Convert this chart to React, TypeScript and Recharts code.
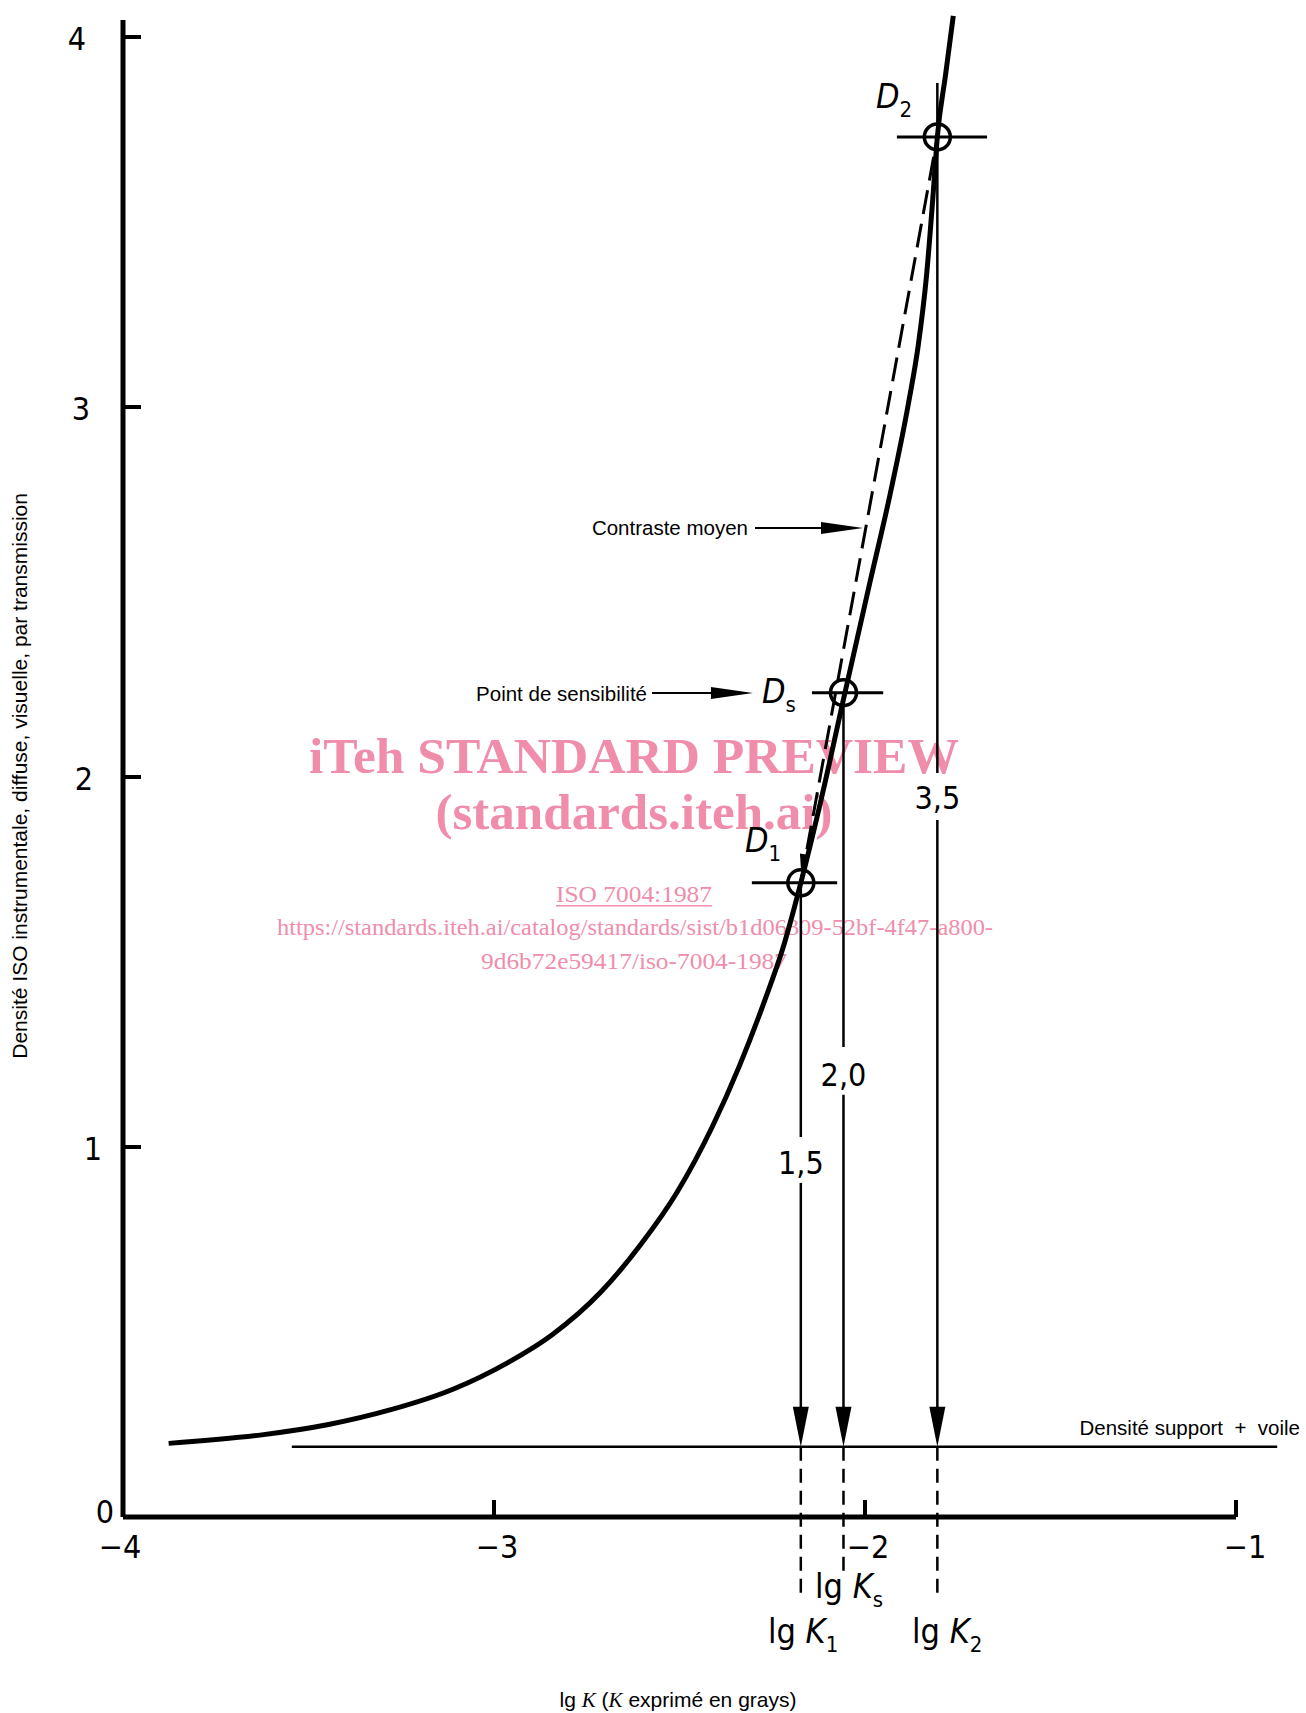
import React from "react";
import { ComposedChart, Line, XAxis, YAxis, ReferenceLine, ReferenceDot } from "recharts";

// characteristic curve
const lgK = [-3.877, -3.626, -3.446, -3.278, -3.109, -2.965, -2.844, -2.712, -2.604, -2.507, -2.411, -2.339, -2.267, -2.222, -2.173, -2.118, -2.058, -1.987, -1.933, -1.883, -1.856, -1.834, -1.816, -1.805, -1.783, -1.762];
const density = [0.199, 0.222, 0.25, 0.29, 0.346, 0.416, 0.492, 0.608, 0.737, 0.877, 1.056, 1.218, 1.405, 1.535, 1.714, 1.94, 2.21, 2.525, 2.761, 3.009, 3.17, 3.357, 3.58, 3.73, 3.897, 4.057];

// D1, Ds, D2
const pointNames = ["1", "s", "2"];
const pointLgK = [-2.173, -2.058, -1.805];
const pointDensity = [1.714, 2.228, 3.73];
const hairLeft = [-2.305, -2.143, -1.914];
const hairRight = [-2.075, -1.951, -1.671];
const nameLgK = [-2.3235, -2.2776, -1.9704];
const nameDensity = [1.797, 2.2, 3.808];

// density differences written on the drop lines
const valueLabels = ["1,5", "2,0", "3,5"];
const gapTop = [1.027, 1.27, 2.011];
const gapBottom = [0.903, 1.141, 1.884];
const valueDensity = [0.957, 1.195, 1.943];

// lg K labels under the axis
const kSubs = ["1", "s", "2"];
const kLabelLgK = [-2.2615, -2.1348, -1.8733];
const kLabelDensity = [-0.3405, -0.219, -0.3405];
const dashEnd = [-0.216, -0.149, -0.219];

const baseDensity = 0.19;
const baseStart = -3.545;
const baseEnd = -0.889;
const d2Top = 3.876;

const xTicks = [-4, -3, -2, -1];
const xTickLabels = ["\u22124", "\u22123", "\u22122", "\u22121"];
const yTicks = [0, 1, 2, 3, 4];
const yTickLabels = ["0", "1", "2", "3", "4"];

const curveData = lgK.map((x, i) => ({ x, d: density[i] }));
const contrastData = [
  { x: pointLgK[0], d: pointDensity[0] },
  { x: pointLgK[2], d: pointDensity[2] },
];

const din = "'DejaVu Sans Condensed', 'Liberation Sans Narrow', 'DejaVu Sans', sans-serif";
const helv = "'Liberation Sans', Arial, sans-serif";
const serif = "'Liberation Serif', 'Times New Roman', serif";
const pink = "#EF8DAB";

// the scanned y axis leans a little, so labels drift
const yLabelDx: Record<number, number> = { 0: -18, 1: -30, 2: -39, 3: -42, 4: -46 };

const XTick = (props: any) => {
  const { x, y, payload } = props;
  const v = payload.value;
  const i = xTicks.indexOf(v);
  const dx = v === -1 ? 9 : v === -4 ? -3 : 3;
  return (
    <g>
      {v !== -4 && <line x1={x} x2={x} y1={y} y2={y - 17} stroke="#000" strokeWidth={4} />}
      <text x={x + dx} y={y + 30} textAnchor="middle" dominantBaseline="central" fontFamily={din} fontSize={32} fill="#000">
        {xTickLabels[i]}
      </text>
    </g>
  );
};

const YTick = (props: any) => {
  const { x, y, payload } = props;
  const v = payload.value;
  const i = yTicks.indexOf(v);
  return (
    <g>
      {v !== 0 && <line x1={x} x2={x + 18} y1={y} y2={y} stroke="#000" strokeWidth={4} />}
      <text
        x={x + yLabelDx[v]}
        y={v === 0 ? y - 5 : y + 2}
        textAnchor="middle"
        dominantBaseline="central"
        fontFamily={din}
        fontSize={32}
        fill="#000"
      >
        {yTickLabels[i]}
      </text>
    </g>
  );
};

const arrowDown = (p: any) => (
  <polygon points={`${p.cx},${p.cy} ${p.cx - 8},${p.cy - 40} ${p.cx + 8},${p.cy - 40}`} fill="#000" />
);
const arrowRight = (p: any) => (
  <polygon points={`${p.cx},${p.cy} ${p.cx - 42},${p.cy - 6} ${p.cx - 42},${p.cy + 6}`} fill="#000" />
);
const arrowSmall = (p: any) => (
  <polygon points="0,0 -16,-4 -16,4" fill="#000" transform={`translate(${p.cx},${p.cy}) rotate(100.3)`} />
);

const line = (key: string, x1: number, y1: number, x2: number, y2: number, w: number, dash?: string) => (
  <ReferenceLine
    key={key}
    segment={[{ x: x1, y: y1 }, { x: x2, y: y2 }]}
    stroke="#000"
    strokeWidth={w}
    strokeDasharray={dash}
    ifOverflow="visible"
  />
);

const note = (key: string, x: number, y: number, render: (cx: number, cy: number) => React.ReactElement) => (
  <ReferenceDot key={key} x={x} y={y} r={0} ifOverflow="visible" shape={(p: any) => render(p.cx, p.cy)} />
);

export default function App() {
  return (
    <div style={{ position: "absolute", left: 0, top: 0, width: 1306, height: 1713, background: "#fff" }}>
      <svg width={1306} height={1713} style={{ position: "absolute", left: 0, top: 0 }}>
        <g fill={pink} fontFamily={serif} textAnchor="middle">
          <text x={634} y={773} fontSize={51} fontWeight="bold" textLength={650} lengthAdjust="spacingAndGlyphs">
            iTeh STANDARD PREVIEW
          </text>
          <text x={634} y={829} fontSize={51} fontWeight="bold" textLength={397} lengthAdjust="spacingAndGlyphs">
            (standards.iteh.ai)
          </text>
          <text x={634} y={902} fontSize={23} textLength={156} lengthAdjust="spacingAndGlyphs">
            ISO 7004:1987
          </text>
          <rect x={556} y={905} width={156} height={1.5} />
          <text x={635} y={935} fontSize={23} textLength={716} lengthAdjust="spacingAndGlyphs">
            https://standards.iteh.ai/catalog/standards/sist/b1d06309-52bf-4f47-a800-
          </text>
          <text x={634} y={969} fontSize={23} textLength={306} lengthAdjust="spacingAndGlyphs">
            9d6b72e59417/iso-7004-1987
          </text>
        </g>
      </svg>
      <div style={{ position: "absolute", left: 0, top: 0 }}>
        <ComposedChart width={1306} height={1713} margin={{ top: 0, right: 14.35, bottom: 0, left: 0 }}>
          <XAxis
            type="number"
            dataKey="x"
            domain={[-4, -0.85]}
            ticks={xTicks}
            interval={0}
            height={196}
            axisLine={false}
            tickLine={false}
            tickSize={0}
            tickMargin={0}
            tick={<XTick />}
          />
          <YAxis
            type="number"
            dataKey="d"
            domain={[0, 4.1]}
            ticks={yTicks}
            interval={0}
            width={123}
            axisLine={false}
            tickLine={false}
            tickSize={0}
            tickMargin={0}
            tick={<YTick />}
          />

          {/* axes */}
          {line("xaxis", -4, 0, -1, 0, 5)}
          {line("yaxis", -4, 0, -4, 4.046, 5)}

          {/* density of support + fog */}
          {line("base", baseStart, baseDensity, baseEnd, baseDensity, 2.5)}

          {/* drop lines from D1, Ds, D2 */}
          {pointLgK.map((x, i) => line(`up${i}`, x, i === 2 ? d2Top : pointDensity[i], x, gapTop[i], 2.5))}
          {pointLgK.map((x, i) => line(`low${i}`, x, gapBottom[i], x, baseDensity + 0.1, 2.5))}
          {pointLgK.map((x, i) => line(`dash${i}`, x, baseDensity, x, dashEnd[i], 2.5, "14 8"))}
          {pointLgK.map((x, i) => note(`ah${i}`, x, baseDensity, (cx, cy) => arrowDown({ cx, cy })))}
          {pointLgK.map((x, i) => line(`hair${i}`, hairLeft[i], pointDensity[i], hairRight[i], pointDensity[i], 3))}

          <Line
            data={curveData}
            dataKey="d"
            type="monotone"
            stroke="#000"
            strokeWidth={5}
            dot={false}
            activeDot={false}
            isAnimationActive={false}
          />
          <Line
            data={contrastData}
            dataKey="d"
            type="linear"
            stroke="#000"
            strokeWidth={3}
            strokeDasharray="24 10"
            dot={false}
            activeDot={false}
            isAnimationActive={false}
          />
          {note("ahd1", -2.1725, 1.749, (cx, cy) => arrowSmall({ cx, cy }))}

          {pointLgK.map((x, i) => (
            <ReferenceDot key={`c${i}`} x={x} y={pointDensity[i]} r={13} fill="none" stroke="#000" strokeWidth={3.5} ifOverflow="visible" />
          ))}

          {/* D labels */}
          {pointNames.map((s, i) =>
            note(`dn${i}`, nameLgK[i], nameDensity[i], (cx, cy) => (
              <text x={cx} y={cy} fontFamily={din} fontSize={34} fill="#000">
                <tspan fontStyle="italic">D</tspan>
                <tspan fontSize={22} dy={9}>{s}</tspan>
              </text>
            ))
          )}

          {/* value labels on drop lines */}
          {valueLabels.map((s, i) =>
            note(`v${i}`, pointLgK[i], valueDensity[i], (cx, cy) => (
              <text x={cx} y={cy} textAnchor="middle" dominantBaseline="central" fontFamily={din} fontSize={32} fill="#000">
                {s}
              </text>
            ))
          )}

          {/* lg K labels */}
          {kSubs.map((s, i) =>
            note(`k${i}`, kLabelLgK[i], kLabelDensity[i], (cx, cy) => (
              <text x={cx} y={cy} fontFamily={din} fontSize={34} fill="#000">
                <tspan>lg </tspan>
                <tspan fontStyle="italic">K</tspan>
                <tspan fontSize={22} dy={9}>{s}</tspan>
              </text>
            ))
          )}

          {/* callouts */}
          {line("cm", -2.2965, 2.673, -2.06, 2.673, 2)}
          {note("cma", -2.0054, 2.673, (cx, cy) => arrowRight({ cx, cy }))}
          {note("cmt", -2.3154, 2.673, (cx, cy) => (
            <text x={cx} y={cy} textAnchor="end" dominantBaseline="central" fontFamily={helv} fontSize={20.5} fill="#000">
              Contraste moyen
            </text>
          ))}
          {line("ps", -2.574, 2.227, -2.36, 2.227, 2)}
          {note("psa", -2.302, 2.227, (cx, cy) => arrowRight({ cx, cy }))}
          {note("pst", -2.5876, 2.227, (cx, cy) => (
            <text x={cx} y={cy} textAnchor="end" dominantBaseline="central" fontFamily={helv} fontSize={20.5} fill="#000">
              Point de sensibilité
            </text>
          ))}
          {note("bst", -0.8275, 0.243, (cx, cy) => (
            <text x={cx} y={cy} textAnchor="end" dominantBaseline="central" fontFamily={helv} fontSize={20.5} fill="#000">
              {"Densité support\u00a0 +\u00a0 voile"}
            </text>
          ))}

          {/* axis titles */}
          {note("xt", -2.504, -0.514, (cx, cy) => (
            <text x={cx} y={cy} textAnchor="middle" fontFamily={helv} fontSize={21} fill="#000">
              lg <tspan fontFamily={serif} fontStyle="italic">K</tspan> (<tspan fontFamily={serif} fontStyle="italic">K</tspan> exprimé en grays)
            </text>
          ))}
          {note("yt", -4.278, 2.003, (cx, cy) => (
            <text
              x={cx}
              y={cy}
              textAnchor="middle"
              dominantBaseline="central"
              fontFamily={helv}
              fontSize={21}
              fill="#000"
              transform={`rotate(-90 ${cx} ${cy})`}
            >
              Densité ISO instrumentale, diffuse, visuelle, par transmission
            </text>
          ))}
        </ComposedChart>
      </div>
    </div>
  );
}
